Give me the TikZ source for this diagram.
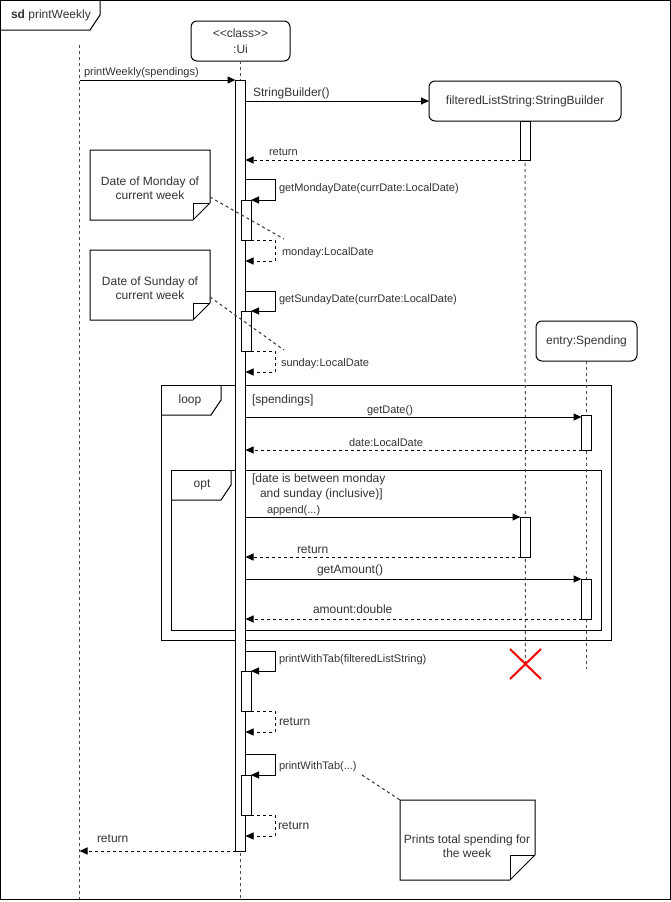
\documentclass[tikz,border=0pt]{standalone}
\usepackage{fontspec}
\setmainfont{Liberation Sans}
\usetikzlibrary{arrows.meta}
\definecolor{txt}{HTML}{333333}
\begin{document}
\begin{tikzpicture}[x=1pt,y=-1pt,
 every node/.style={inner sep=0pt, outer sep=0pt, text=txt},
 f11/.style={font=\fontsize{11}{13}\selectfont},
 f12/.style={font=\fontsize{12}{14}\selectfont},
 lbl/.style={f11, anchor=base west},
 lblb/.style={f12, anchor=base west},
 lblc/.style={f11, anchor=base},
 line/.style={line width=1pt},
 msg/.style={line, -{Triangle[length=8pt,width=7pt]}},
 ret/.style={msg, dash pattern=on 3pt off 3pt},
 life/.style={line, dash pattern=on 3pt off 3pt, draw=black!70},
 head/.style={draw, line, rounded corners=6pt, fill=white, font=\fontsize{12}{16}\selectfont, align=center},
 act/.style={draw, line, fill=white, minimum width=10pt},
 frame/.style={draw, line},
 notetxt/.style={font=\fontsize{12}{13.5}\selectfont, align=center},
 link/.style={line, dash pattern=on 3pt off 3pt, draw=black!80}
]
\useasboundingbox (0,0) rectangle (671,902);

% outer frame
\node[frame, minimum width=670pt, minimum height=899pt, anchor=north west] (sd) at (0.5,0.5) {};
\draw[line] (0.5,30) -- (90,30) -- (100,15) -- (100,0.5);
\node[f12, anchor=base west] (sdl) at (11,18) {\textbf{sd} printWeekly};

% combined fragments
\node[frame, minimum width=450pt, minimum height=255pt, anchor=north west] (loopf) at (161,385) {};
\draw[line] (161,415) -- (211,415) -- (221,400) -- (221,385);
\node[f12] (loopl) at (190,400) {loop};
\node[lblb] (loopg) at (252,403) {[spendings]};

\node[frame, minimum width=430pt, minimum height=160pt, anchor=north west] (optf) at (171,470) {};
\draw[line] (171,500) -- (221,500) -- (231,485) -- (231,470);
\node[f12] (optl) at (202,485) {opt};
\node[lblb] (optg1) at (252,482) {[date is between monday};
\node[lblb] (optg2) at (260,497) {and sunday (inclusive)]};

% heads
\node[head, minimum width=99pt, minimum height=40pt] (ui) at (240.5,41) {\textless\kern0pt\textless\kern0pt class\textgreater\kern0pt\textgreater\\:Ui};
\node[head, minimum width=192pt, minimum height=40pt] (fsb) at (525,101) {filteredListString:StringBuilder};
\node[head, minimum width=101pt, minimum height=40pt] (ent) at (586.5,341) {entry:Spending};

% lifelines
\coordinate (lt) at (79.5,45);
\coordinate (lb) at (79.5,899);
\coordinate (uib) at (240.5,899);
\coordinate (fsbx) at (525.5,664);
\coordinate (entb) at (586.5,669);
\draw[life] (lt) -- (lb);
\draw[life] (ui.south) -- (uib);
\draw[life] (fsb.south) -- (fsbx);
\draw[life] (ent.south) -- (entb);

% activation bars
\node[act, minimum height=771pt] (uiact) at (240.5,465.5) {};
\node[act, minimum height=39pt] (fa1) at (525.5,140.5) {};
\node[act, minimum height=40pt] (fa2) at (525.5,537) {};
\node[act, minimum height=35pt] (ea1) at (586.5,432.5) {};
\node[act, minimum height=40pt] (ea2) at (586.5,599) {};
\node[act, minimum height=40pt] (m1) at (246,220) {};
\node[act, minimum height=40pt] (s1) at (246,331) {};
\node[act, minimum height=40pt] (p1) at (246,691) {};
\node[act, minimum height=40pt] (p2) at (246,795) {};

% messages
\draw[msg] (lt |- uiact.north) -- (uiact.north west);
\node[lbl] (l1) at (84,75) {printWeekly(spendings)};

\draw[msg] (uiact.east |- fsb.west) -- (fsb.west);
\node[lblb] (l2) at (253,96) {StringBuilder()};

\draw[ret] (fa1.south west) -- (uiact.east |- fa1.south west);
\node[lbl] (l3) at (269,155) {return};

% getMondayDate
\draw[msg] (245.5,179) -- (275,179) -- (275,200) -- (m1.north east);
\node[lbl] (l4) at (279,191) {getMondayDate(currDate:LocalDate)};
\draw[ret] (m1.south east) -- (275,240) -- (275,261) -- (245.5,261);
\node[lbl] (l5) at (282,255) {monday:LocalDate};

% getSundayDate
\draw[msg] (245.5,291) -- (275,291) -- (275,311) -- (s1.north east);
\node[lbl] (l6) at (279,302) {getSundayDate(currDate:LocalDate)};
\draw[ret] (s1.south east) -- (275,351) -- (275,372) -- (245.5,372);
\node[lbl] (l7) at (281,366) {sunday:LocalDate};

% loop
\draw[msg] (245.5,417) -- (ea1.west |- 0,417);
\node[lblc] (l8) at (390,413) {getDate()};
\draw[ret] (ea1.south west) -- (uiact.east |- ea1.south west);
\node[lblc] (l9) at (386,446) {date:LocalDate};

% opt
\draw[msg] (uiact.east |- fa2.north west) -- (fa2.north west);
\node[lbl] (l10) at (267,513) {append(...)};
\draw[ret] (fa2.south west) -- (uiact.east |- fa2.south west);
\node[lblb] (l11) at (297,553) {return};
\draw[msg] (uiact.east |- ea2.north west) -- (ea2.north west);
\node[lblb] (l12) at (317,573) {getAmount()};
\draw[ret] (ea2.south west) -- (uiact.east |- ea2.south west);
\node[lblb] (l13) at (313,613) {amount:double};

% destruction
\draw[red, line width=2pt] (510,649) -- (541,679) (510,679) -- (541,649);

% printWithTab
\draw[msg] (245.5,651) -- (275,651) -- (275,671) -- (p1.north east);
\node[lbl] (l14) at (279,662) {printWithTab(filteredListString)};
\draw[ret] (p1.south east) -- (275,711) -- (275,732) -- (245.5,732);
\node[lblb] (l15) at (279,725) {return};

\draw[msg] (245.5,754) -- (275,754) -- (275,775) -- (p2.north east);
\node[lbl] (l16) at (279,769) {printWithTab(...)};
\draw[ret] (p2.south east) -- (275,815) -- (275,836) -- (245.5,836);
\node[lblb] (l17) at (278,829) {return};

% final return
\draw[ret] (uiact.south west) -- (lt |- uiact.south west);
\node[lblb] (l18) at (97,842) {return};

% notes
\draw[line, fill=white] (90,150) -- (210,150) -- (210,203) -- (193,220) -- (90,220) -- cycle;
\draw[line] (193,220) -- (193,203) -- (210,203);
\node[notetxt] (nm) at (150,188) {Date of Monday of\\current week};
\coordinate (nme) at (210,197);
\coordinate (nmt) at (284,239);
\draw[link] (nme) -- (nmt);

\draw[line, fill=white] (90,250) -- (210,250) -- (210,303) -- (193,320) -- (90,320) -- cycle;
\draw[line] (193,320) -- (193,303) -- (210,303);
\node[notetxt] (ns) at (150,288) {Date of Sunday of\\current week};
\coordinate (nse) at (210,297);
\coordinate (nst) at (284,350);
\draw[link] (nse) -- (nst);

\draw[line, fill=white] (400,800) -- (535,800) -- (535,855) -- (510,880) -- (400,880) -- cycle;
\draw[line] (510,880) -- (510,855) -- (535,855);
\node[notetxt] (nt) at (467,846) {Prints total spending for\\the week};
\coordinate (ntw) at (400,800);
\coordinate (ntl) at (362,775);
\draw[link] (ntl) -- (ntw);
\end{tikzpicture}
\end{document}
